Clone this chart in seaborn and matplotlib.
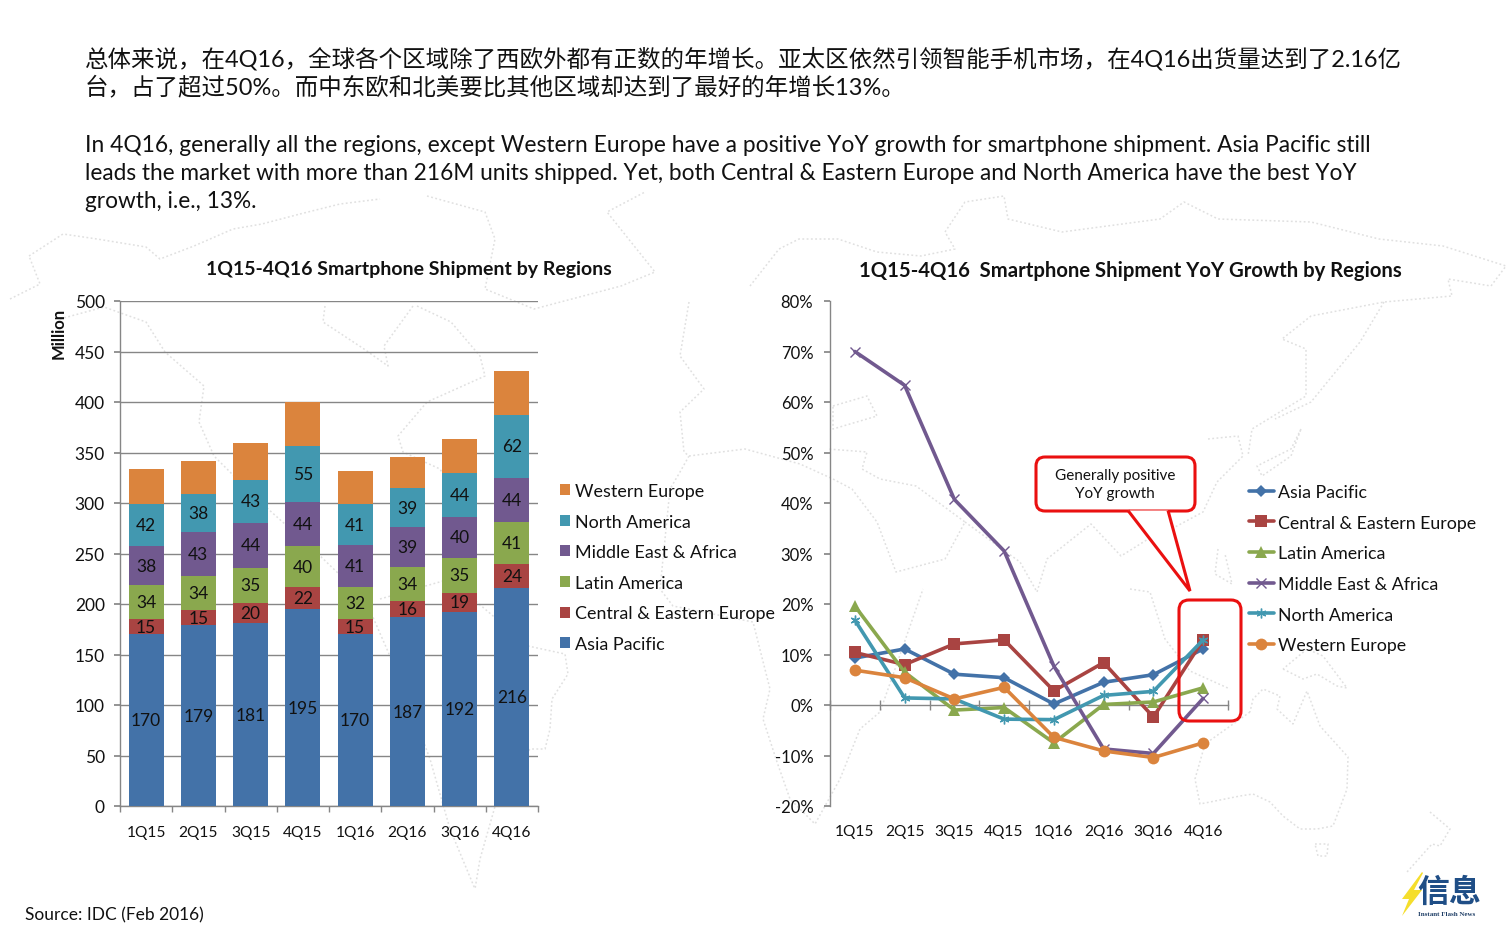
import matplotlib
matplotlib.use("Agg")
import matplotlib.pyplot as plt
from matplotlib.patches import FancyBboxPatch, Polygon
from matplotlib.ticker import FuncFormatter, FixedLocator
import pandas as pd
import seaborn as sns

W, H = 1512, 945
quarters = ["1Q15", "2Q15", "3Q15", "4Q15", "1Q16", "2Q16", "3Q16", "4Q16"]
regions = ["Asia Pacific", "Central & Eastern Europe", "Latin America",
           "Middle East & Africa", "North America", "Western Europe"]
asia = [170, 179, 181, 195, 170, 187, 192, 216]
cee = [15, 15, 20, 22, 15, 16, 19, 24]
latam = [34, 34, 35, 40, 32, 34, 35, 41]
mea = [38, 43, 44, 44, 41, 39, 40, 44]
na = [42, 38, 43, 55, 41, 39, 44, 62]
we = [35, 33, 36, 44, 33, 31, 33, 44]
asia_g = [9.3, 11.1, 6.1, 5.4, 0.2, 4.5, 6.0, 11.1]
cee_g = [10.4, 8.0, 12.1, 12.9, 2.8, 8.4, -2.4, 12.9]
latam_g = [19.6, 6.5, -1.0, -0.5, -7.5, 0.1, 0.6, 3.4]
mea_g = [70.0, 63.3, 40.7, 30.5, 7.7, -8.7, -9.6, 1.3]
na_g = [16.8, 1.4, 1.2, -2.8, -2.9, 1.9, 2.7, 12.9]
we_g = [6.9, 5.4, 1.2, 3.5, -6.4, -9.1, -10.4, -7.5]
colors = ["#4372A8", "#A94442", "#8AA84E", "#71598F", "#4298B0", "#DB843D"]
markers = ["D", "s", "^", "x", (6, 2, 0), "o"]

sns.set_theme(style="white")
LATIN = "Lato"
plt.rcParams["font.family"] = [LATIN, "Noto Sans CJK SC", "DejaVu Sans"]
plt.rcParams["axes.facecolor"] = "none"
GREY = "#868686"

fig = plt.figure(figsize=(W / 100, H / 100), dpi=100, facecolor="white")

def box(x0, y0, x1, y1):
    return [x0 / W, 1 - y1 / H, (x1 - x0) / W, (y1 - y0) / H]

def px(x, y):
    return x / W, 1 - y / H

# faint world-map backdrop
bg = fig.add_axes([0, 0, 1, 1], zorder=0)
bg.set_xlim(0, W); bg.set_ylim(H, 0); bg.axis("off")
outlines = [
    [(29,257),(63,235),(97,240),(146,248),(160,260),(194,247),(233,230),(262,225),(300,215)],
    [(10,300),(40,285),(29,257)],
    [(60,320),(104,308),(146,323),(165,353),(204,387),(199,423),(214,457),(257,500),(316,553),(365,600),(400,680),(430,760),(450,830),(475,890)],
    [(325,307),(323,323),(364,350),(388,367),(384,347),(413,307)],
    [(417,307),(451,323),(480,357),(485,377),(427,403),(398,437),(403,453),(440,470),(470,520)],
    [(380,600),(450,580),(528,647),(565,655),(568,675),(552,700),(550,730),(545,750),(530,750),(500,790),(480,860),(475,890)],
    [(427,197),(485,213),(495,240),(485,290),(534,310),(621,287),(655,273),(607,213),(645,193)],
    [(300,215),(340,205),(380,200)],
    [(689,303),(680,357),(704,390),(680,413),(684,453),(689,457),(680,473),(670,490),(660,590),(673,607),(753,623),(770,690),(763,720),(777,763),(790,800),(815,825),(840,780),(860,730),(880,713),(923,590)],
    [(689,457),(745,450),(800,465),(833,480),(852,490),(877,523),(896,573),(945,560),(965,523),(916,487),(880,480),(862,470),(867,453),(828,450)],
    [(750,287),(779,250),(799,240),(838,240),(877,253),(921,257),(955,250),(945,233),(965,203),(1004,197),(1008,220),(1062,233),(1160,220),(1184,203),(1218,220),(1311,223),(1379,240),(1443,247),(1506,267),(1491,287),(1448,280),(1452,297),(1384,303),(1311,317),(1282,340),(1306,350),(1306,397),(1252,430),(1248,457)],
    [(1384,303),(1360,343),(1311,403),(1275,420)],
    [(833,407),(867,397),(877,417),(833,430),(833,407)],
    [(1208,440),(1238,437),(1243,457),(1217,483),(1203,513),(1177,527),(1153,537),(1121,557),(1091,525),(1047,560),(1037,593),(1020,563),(965,523)],
    [(1301,430),(1291,450),(1257,467),(1262,477),(1291,457),(1301,430)],
    [(1130,590),(1150,593),(1165,640),(1190,672),(1230,690)],
    [(1218,550),(1215,575),(1232,585),(1225,555)],
    [(1283,670),(1303,680),(1317,675),(1337,687),(1347,689),(1323,657),(1307,650),(1283,670)],
    [(1250,713),(1205,745),(1195,780),(1200,805),(1240,797),(1253,795),(1270,803),(1283,817),(1300,830),(1317,830),(1333,827),(1347,790),(1348,758),(1320,727),(1307,692),(1293,725),(1277,710),(1280,697),(1263,690),(1253,700),(1250,713)],
    [(1315,845),(1328,845),(1327,857),(1318,857),(1315,845)],
    [(1430,813),(1450,830),(1440,847),(1432,845),(1407,873)],
]
for o in outlines:
    bg.plot(*zip(*o), color="#E0E0E0", lw=1.1, ls=(0, (1.2, 1.6)), zorder=0)

# text blocks
def T(x, y, s, size, **kw):
    fig.text(*px(x, y), s, fontsize=size, va="center", color=kw.pop("color", "#111111"), **kw)

T(85, 59, "总体来说，在4Q16，全球各个区域除了西欧外都有正数的年增长。亚太区依然引领智能手机市场，在4Q16出货量达到了2.16亿", 16.9)
T(85, 87, "台，占了超过50%。而中东欧和北美要比其他区域却达到了最好的年增长13%。", 16.9)
T(85, 145, "In 4Q16, generally all the regions, except Western Europe have a positive YoY growth for smartphone shipment. Asia Pacific still", 16.38)
T(85, 173, "leads the market with more than 216M units shipped. Yet, both Central & Eastern Europe and North America have the best YoY", 16.32)
T(85, 201, "growth, i.e., 13%.", 16.32)
T(25, 915, "Source: IDC (Feb 2016)", 12.5)
T(206, 270, "1Q15-4Q16 Smartphone Shipment by Regions", 14, fontweight="bold")
T(859, 271, "1Q15-4Q16  Smartphone Shipment YoY Growth by Regions", 14.55, fontweight="bold")

# stacked bars
ax = fig.add_axes(box(120, 302, 538, 807), zorder=2)
bottom = [0] * 8
for name, vals, c in zip(regions, [asia, cee, latam, mea, na, we], colors):
    d = pd.DataFrame({"q": quarters, "v": vals})
    n0 = len(ax.containers)
    sns.barplot(data=d, x="q", y="v", color=c, bottom=bottom, width=0.67, ax=ax,
                saturation=1, label=name, zorder=3, errorbar=None, linewidth=0)
    if name != "Western Europe":
        ax.bar_label(ax.containers[n0], labels=[str(v) for v in vals], label_type="center",
                     fontsize=12.5, color="#111111", zorder=4)
    bottom = [a + b for a, b in zip(bottom, vals)]
ax.set_xlim(-0.5, 7.5); ax.set_ylim(0, 500)
ax.set_yticks(range(0, 501, 50))
ax.grid(axis="y", color=GREY, lw=1); ax.grid(axis="x", visible=False)
ax.set_axisbelow(True)
sns.despine(ax=ax)
for s in ("left", "bottom"):
    ax.spines[s].set_color(GREY); ax.spines[s].set_linewidth(1)
ax.set_xlabel(""); ax.set_ylabel("")
ax.tick_params(axis="y", length=4, color=GREY, labelsize=12.5, labelcolor="#111111", pad=7, left=True)
ax.tick_params(axis="x", which="major", length=0, labelsize=11.2, labelcolor="#111111", pad=14)
ax.xaxis.set_minor_locator(FixedLocator([i - 0.5 for i in range(9)]))
ax.tick_params(axis="x", which="minor", length=4, color=GREY, bottom=True)
h, l = ax.get_legend_handles_labels()
ax.legend(h[::-1], l[::-1], loc="upper left", bbox_to_anchor=px(560, 484), bbox_transform=fig.transFigure,
          frameon=False, fontsize=12.9, handlelength=0.56, handleheight=0.56, handletextpad=0.28,
          labelspacing=0.815, borderpad=0, borderaxespad=0, labelcolor="#111111")
fig.text(*px(59, 333), "Million", rotation=90, fontsize=12, fontweight="bold", va="center", ha="center", color="#111111")

# growth lines
ax2 = fig.add_axes(box(830, 302, 1228, 807), zorder=2)
for name, vals, c, m in zip(regions, [asia_g, cee_g, latam_g, mea_g, na_g, we_g], colors, markers):
    d = pd.DataFrame({"q": quarters, "v": vals})
    ms = {"D": 6.5, "s": 8.5, "^": 9, "x": 7, "o": 8.5}.get(m, 7) if isinstance(m, str) else 7
    sns.lineplot(data=d, x="q", y="v", color=c, lw=2.6, marker=m, ms=ms, mew=1 if isinstance(m, tuple) or m == "x" else 0,
                 mec=c, label=name, ax=ax2, errorbar=None, zorder=3, sort=False)
ax2.set_xlim(-0.5, 7.5); ax2.set_ylim(-20, 80)
ax2.set_yticks(range(-20, 81, 10))
ax2.yaxis.set_major_formatter(FuncFormatter(lambda v, _: f"{int(v)}%"))
ax2.grid(False)
sns.despine(ax=ax2)
ax2.spines["bottom"].set_position(("data", 0))
for s in ("left", "bottom"):
    ax2.spines[s].set_color(GREY); ax2.spines[s].set_linewidth(1)
ax2.set_xlabel(""); ax2.set_ylabel("")
ax2.tick_params(axis="y", length=4, color=GREY, labelsize=12, labelcolor="#111111", pad=8, left=True)
ax2.tick_params(axis="x", which="major", length=0, labelsize=11.2, labelcolor="#111111", pad=86)
ax2.xaxis.set_minor_locator(FixedLocator([i - 0.5 for i in range(9)]))
ax2.tick_params(axis="x", which="minor", length=7, direction="inout", color=GREY, bottom=True)
ax2.legend(loc="upper left", bbox_to_anchor=px(1249, 485), bbox_transform=fig.transFigure,
           frameon=False, fontsize=12.8, handlelength=1.4, handletextpad=0.22,
           labelspacing=0.825, borderpad=0, borderaxespad=0, labelcolor="#111111")

# annotations in pixel space
ov = fig.add_axes([0, 0, 1, 1], zorder=5)
ov.set_xlim(0, W); ov.set_ylim(H, 0); ov.axis("off")
RED = "#EA1010"
ov.add_patch(FancyBboxPatch((1179, 601), 62, 121, boxstyle="round,pad=0,rounding_size=10",
                            fc="none", ec=RED, lw=2.2))
ov.add_patch(FancyBboxPatch((1036, 458), 159, 54, boxstyle="round,pad=0,rounding_size=9",
                            fc="white", ec=RED, lw=2.2))
ov.add_patch(Polygon([(1128, 511.5), (1190, 592), (1168, 511.5)], closed=False, fc="white", ec=RED, lw=2.2))
ov.text(1115, 485, "Generally positive\nYoY growth", ha="center", va="center", fontsize=11, color="#111111", linespacing=1.45)

# logo
ov.add_patch(Polygon([(1422, 873), (1402, 900), (1409, 900), (1402, 917), (1422, 891), (1414, 891), (1423, 874)],
                     fc="#F5DE2C", ec="none"))
ov.text(1449, 893, "信息", ha="center", va="center", fontsize=23, fontweight="bold", color="#1F4E86",
        family=["Noto Sans CJK SC", "DejaVu Sans"])
ov.text(1447, 915, "Instant Flash News", ha="center", va="center", fontsize=5, fontweight="bold",
        color="#1F3E66", family=["Liberation Serif"])

fig.savefig("out.png", dpi=100, facecolor="white")
